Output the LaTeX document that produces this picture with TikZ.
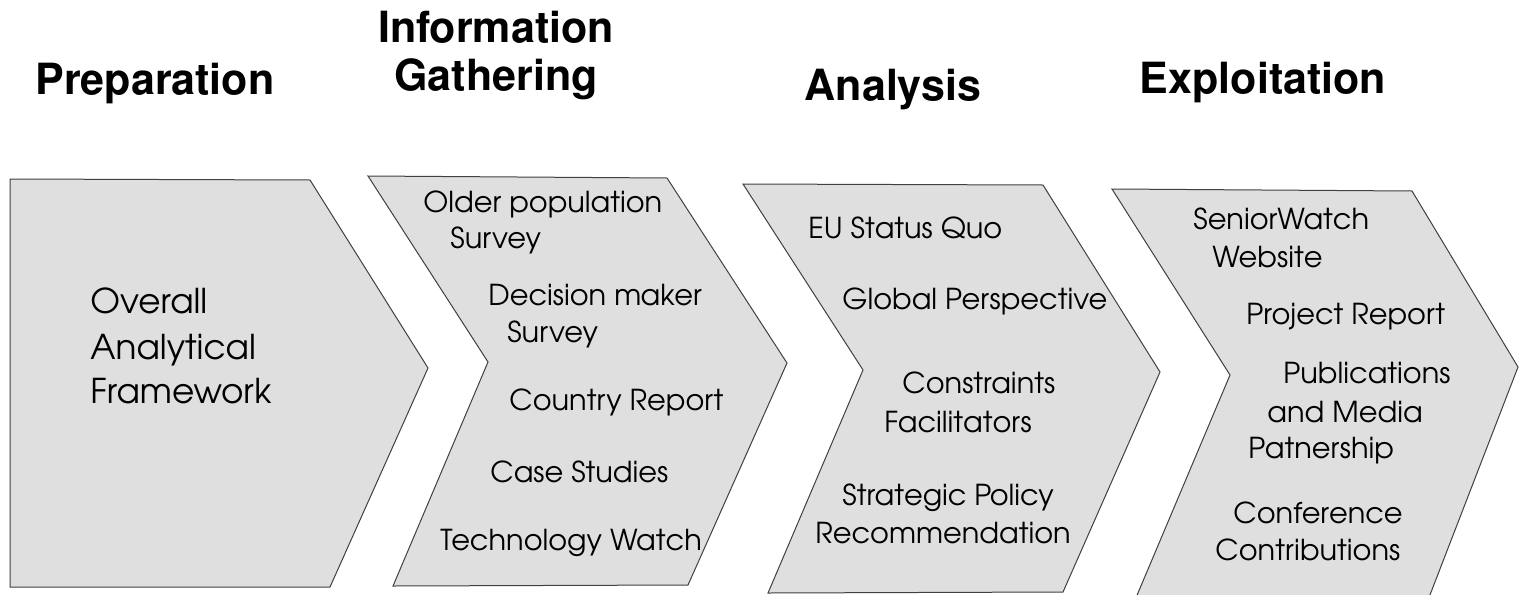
\documentclass[tikz,border=0pt]{standalone}
\usepackage[T1]{fontenc}
\usetikzlibrary{positioning}

\newcommand{\stagefont}{\fontfamily{phv}\fontseries{b}\fontsize{21.5}{24}\selectfont}
\newcommand{\bigitemfont}{\fontfamily{pag}\fontsize{17.1}{20}\selectfont}
\newcommand{\itemfont}{\fontfamily{pag}\fontsize{14.4}{17}\selectfont}
\definecolor{chevfill}{HTML}{DFDFDF}
\definecolor{chevline}{HTML}{404040}

\tikzset{
  chev/.style={fill=chevfill, draw=chevline, line width=0.5pt, line join=miter},
  stage/.style={font=\stagefont, inner sep=0pt, align=center},
  item/.style={font=\itemfont, anchor=base west, inner sep=0pt},
  bigitem/.style={font=\bigitemfont, anchor=base west, inner sep=0pt}
}

\begin{document}
\begin{tikzpicture}[x=0.5pt, y=-0.5pt]
      \clip (0, 0) rectangle (1519, 594);
      \fill [white] (0, 0) rectangle (1519, 594);
      % chevrons
      \draw [chev] (10, 179) -- (310, 180) -- (428, 368) -- (330, 587) -- (10, 587) -- cycle;
      \draw [chev] (368, 176) -- (667, 178) -- (787, 363) -- (688, 585) -- (393, 586) -- (488, 362) -- cycle;
      \draw [chev] (743, 184) -- (1043, 185) -- (1160, 372) -- (1063, 592) -- (768, 593) -- (863, 370) -- cycle;
      \draw [chev] (1112, 189) -- (1412, 191) -- (1518, 367) -- (1428, 600) -- (1135, 600) -- (1230, 375) -- cycle;
      % stage titles
      \node [stage, anchor=base] (prep) at (155, 94) {Preparation};
      \node [stage, anchor=south] (gath) at (496, 100) {Information\\Gathering};
      \node [stage, anchor=base] (anal) at (893, 100) {Analysis};
      \node [stage, anchor=base] (expl) at (1263, 93) {Exploitation};
      % preparation
      \node [bigitem] (frame1) at (90, 313) {Overall};
      \node [bigitem] (frame2) at (90, 359) {Analytical};
      \node [bigitem] (frame3) at (90, 403) {Framework};
      % information gathering
      \node [item] (older1) at (423, 212) {Older population};
      \node [item] (older2) at (450, 248) {Survey};
      \node [item] (dec1) at (488, 305) {Decision maker};
      \node [item] (dec2) at (507, 342) {Survey};
      \node [item] (country) at (509, 410) {Country Report};
      \node [item] (cases) at (490, 482) {Case Studies};
      \node [item] (techwatch) at (440, 550) {Technology Watch};
      % analysis
      \node [item] (euquo) at (808, 238) {EU Status Quo};
      \node [item] (global) at (842, 309) {Global Perspective};
      \node [item] (constr1) at (902, 393) {Constraints};
      \node [item] (constr2) at (884, 432) {Facilitators};
      \node [item] (policy1) at (842, 505) {Strategic Policy};
      \node [item] (policy2) at (815, 543) {Recommendation};
      % exploitation
      \node [item] (web1) at (1193, 229) {SeniorWatch};
      \node [item] (web2) at (1212, 267) {Website};
      \node [item] (report) at (1246, 324) {Project Report};
      \node [item] (publ1) at (1283, 383) {Publications};
      \node [item] (publ2) at (1267, 422) {and Media};
      \node [item] (publ3) at (1248, 458) {Patnership};
      \node [item] (conf1) at (1233, 523) {Conference};
      \node [item] (conf2) at (1215, 560) {Contributions};
\end{tikzpicture}
\end{document}
